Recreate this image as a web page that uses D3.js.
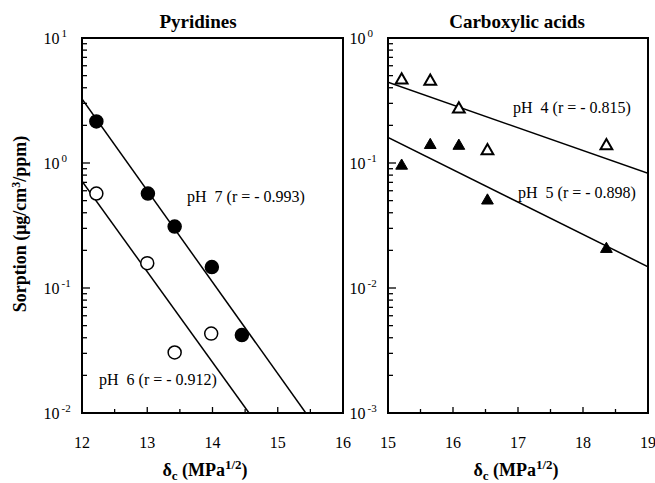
<!DOCTYPE html>
<html><head><meta charset="utf-8">
<script src="https://cdn.jsdelivr.net/npm/d3@7"></script>
<style>body{margin:0;background:#fff}svg{display:block}</style>
</head><body><svg id="c" width="655" height="483" font-family="Liberation Serif, Times New Roman, serif"></svg>
<script>
// ---- data ----
const pyrX   = [12.22, 13.01, 13.42, 13.99, 14.45];
const pyrPH7 = [2.15, 0.57, 0.31, 0.147, 0.042];
const pyrX6  = [12.22, 13.0, 13.42, 13.98];
const pyrPH6 = [0.57, 0.158, 0.0305, 0.0432];
const pyrFit7 = [[12, 3.25], [15.43, 0.01]];
const pyrFit6 = [[12, 0.715], [14.56, 0.01]];
const carX   = [15.21, 15.65, 16.09, 16.53, 18.36];
const carPH4 = [0.46, 0.45, 0.27, 0.125, 0.137];
const carPH5 = [0.095, 0.139, 0.137, 0.050, 0.0205];
const carFit4 = [[15, 0.442], [19, 0.0827]];
const carFit5 = [[15, 0.16], [19, 0.0148]];
const pyrXTicks = [12, 13, 14, 15, 16];
const carXTicks = [15, 16, 17, 18, 19];
const pyrYExp = [1, 0, -1, -2];
const carYExp = [0, -1, -2, -3];

const FONT = "Liberation Serif, Times New Roman, serif";
const svg = d3.select("#c");

function txt(sel) { return sel.append("text").attr("font-family", FONT).attr("fill", "#000"); }

function panel(o) {
  const x = d3.scaleLinear().domain(o.xd).range(o.xr);
  const y = d3.scaleLog().domain(o.yd).range([413, 38]);
  const g = svg.append("g");
  const id = "clip" + o.name;
  svg.append("clipPath").attr("id", id).append("rect")
    .attr("x", o.xr[0]).attr("y", 38).attr("width", o.xr[1]-o.xr[0]).attr("height", 375);
  const lo = Math.log10(o.yd[0]), hi = Math.log10(o.yd[1]);
  for (let e = lo; e < hi; e++) {
    for (let m = 1; m < 10; m++) {
      const v = m * Math.pow(10, e);
      g.append("line").attr("x1", o.xr[0]).attr("x2", o.xr[0] + (m === 1 ? 8 : 5))
        .attr("y1", y(v)).attr("y2", y(v)).attr("stroke", "#000").attr("stroke-width", 1.3);
    }
  }
  for (let t = o.xd[0]; t <= o.xd[1]; t += 0.5) {
    const major = Math.abs(t - Math.round(t)) < 1e-6;
    g.append("line").attr("x1", x(t)).attr("x2", x(t)).attr("y1", 413).attr("y2", 413 - (major ? 6 : 4))
      .attr("stroke", "#000").attr("stroke-width", 1.3);
  }
  g.append("rect").attr("x", o.xr[0]).attr("y", 38).attr("width", o.xr[1]-o.xr[0]).attr("height", 375)
    .attr("fill", "none").attr("stroke", "#000").attr("stroke-width", 2);
  o.xticks.forEach(d => txt(g).attr("x", x(d)).attr("y", 448).attr("text-anchor", "middle").attr("font-size", 16).text(d));
  o.yexp.forEach(e => {
    const t = txt(g).attr("x", o.xr[0] - 38.5).attr("y", y(Math.pow(10, e)) + 5.5).attr("font-size", 16);
    t.append("tspan").text("10");
    t.append("tspan").attr("dx", 2).attr("dy", -7).attr("font-size", 11).text(e < 0 ? "-" + (-e) : e);
  });
  const line = d3.line().x(d => x(d[0])).y(d => y(d[1]));
  o.fits.forEach(f => g.append("path").attr("d", line(f)).attr("fill", "none").attr("stroke", "#000")
    .attr("stroke-width", 1.5).attr("clip-path", `url(#${id})`));
  o.series.forEach(s => {
    s.xs.forEach((xv, i) => {
      if (s.shape === "circle") {
        g.append("circle").attr("cx", x(xv)).attr("cy", y(s.ys[i])).attr("r", 6.5)
          .attr("fill", s.fill).attr("stroke", "#000").attr("stroke-width", 1.5);
      } else {
        g.append("path").attr("d", d3.symbol(d3.symbolTriangle, 60)())
          .attr("transform", `translate(${x(xv)},${y(s.ys[i])})`)
          .attr("fill", s.fill).attr("stroke", "#000").attr("stroke-width", s.fill === "#fff" ? 2 : 1);
      }
    });
  });
  o.notes.forEach(n => txt(g).attr("x", n.x).attr("y", n.y).attr("font-size", 16)
    .attr("xml:space", "preserve").text(n.t));
  txt(g).attr("x", o.titleX).attr("y", 28).attr("text-anchor", "middle")
    .attr("font-size", 19).attr("font-weight", "bold").text(o.title);
  const xl = txt(g).attr("x", o.xlabX).attr("y", 476).attr("text-anchor", "middle")
    .attr("font-size", 18).attr("font-weight", "bold");
  xl.append("tspan").text("δ");
  xl.append("tspan").attr("font-size", 13).attr("dy", 4).text("c");
  xl.append("tspan").attr("dy", -4).text(" (MPa");
  xl.append("tspan").attr("font-size", 13).attr("dy", -7).text("1/2");
  xl.append("tspan").attr("dy", 7).text(")");
}

panel({name: "a", xd: [12, 16], xr: [82, 343], yd: [0.01, 10], xticks: pyrXTicks, yexp: pyrYExp,
  fits: [pyrFit7, pyrFit6],
  series: [{xs: pyrX, ys: pyrPH7, shape: "circle", fill: "#000"}, {xs: pyrX6, ys: pyrPH6, shape: "circle", fill: "#fff"}],
  notes: [{x: 187, y: 202, t: "pH  7 (r = - 0.993)"}, {x: 99, y: 385, t: "pH  6 (r = - 0.912)"}],
  title: "Pyridines", titleX: 198, xlabX: 205});
panel({name: "b", xd: [15, 19], xr: [388, 648], yd: [0.001, 1], xticks: carXTicks, yexp: carYExp,
  fits: [carFit4, carFit5],
  series: [{xs: carX, ys: carPH4, shape: "tri", fill: "#fff"}, {xs: carX, ys: carPH5, shape: "tri", fill: "#000"}],
  notes: [{x: 513, y: 113, t: "pH  4 (r = - 0.815)"}, {x: 518, y: 198, t: "pH  5 (r = - 0.898)"}],
  title: "Carboxylic acids", titleX: 517, xlabX: 516});

const yl = txt(svg).attr("transform", "translate(26,224) rotate(-90)").attr("text-anchor", "middle")
  .attr("font-size", 18).attr("font-weight", "bold");
yl.append("tspan").text("Sorption (μg/cm");
yl.append("tspan").attr("font-size", 12).attr("dy", -6).text("3");
yl.append("tspan").attr("dy", 6).text("/ppm)");
</script></body></html>
